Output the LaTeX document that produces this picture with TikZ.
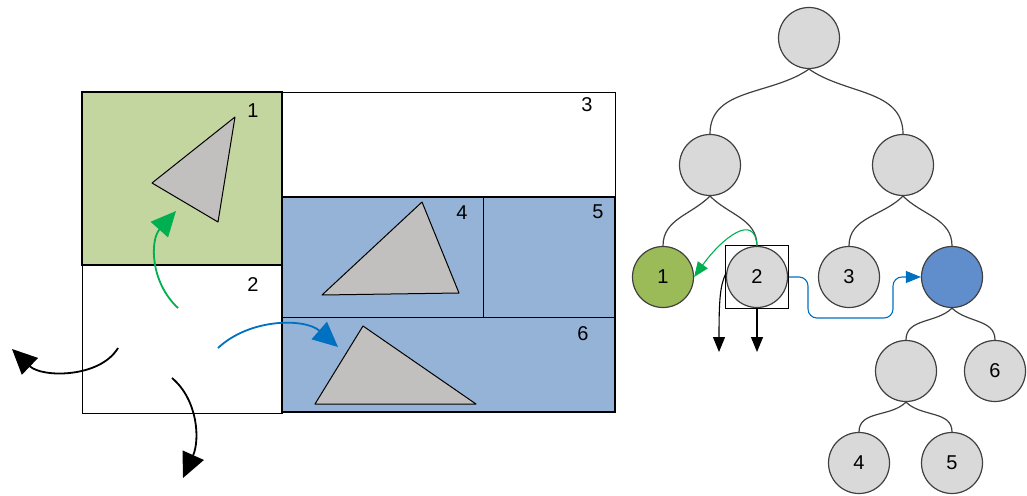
\documentclass[tikz,border=0pt]{standalone}
\usepackage{fontspec}
\setmainfont{Liberation Sans}
\usetikzlibrary{arrows.meta}

\definecolor{leafgreen}{RGB}{196,214,160}
\definecolor{nodegreen}{RGB}{155,187,89}
\definecolor{cellblue}{RGB}{149,179,215}
\definecolor{nodeblue}{RGB}{96,142,204}
\definecolor{nodegray}{RGB}{217,217,217}
\definecolor{trigray}{RGB}{194,192,190}
\definecolor{arrgreen}{RGB}{0,176,80}
\definecolor{arrblue}{RGB}{0,112,192}

\begin{document}
\begin{tikzpicture}[
  x=1pt, y=-1pt,
  font=\fontsize{20}{24}\selectfont,
  cell/.style={draw, line width=1pt},
  bold/.style={draw, line width=2.6pt},
  tri/.style={draw, fill=trigray, line width=1pt, line join=round},
  tnode/.style={circle, draw=black!75, line width=1.2pt, fill=nodegray,
                minimum size=61pt, inner sep=0pt},
  link/.style={line width=1.2pt, draw=black!75},
  move/.style={-{Triangle[length=25pt,width=23pt]}, line width=1.8pt},
  hop/.style={-{Triangle[length=15pt,width=12pt]}, line width=1.1pt}
]
  \useasboundingbox (0,0) rectangle (1027,495);

  % cells of the split
  \draw[cell] (82,265) rectangle (282,413);
  \draw[cell] (282,92) rectangle (615,197);
  \fill[cellblue] (282,197) rectangle (615,412);
  \draw[cell] (282,317) -- (615,317);
  \draw[cell] (483,197) -- (483,317);
  \draw[bold] (282,197) rectangle (615,412);
  \filldraw[bold, fill=leafgreen] (82,92) rectangle (282,265);

  \node (c1) at (253,111) {1};
  \node (c2) at (253,285) {2};
  \node (c3) at (587,105) {3};
  \node (c4) at (462,213) {4};
  \node (c5) at (598,212) {5};
  \node (c6) at (583,334) {6};

  % triangles
  \draw[tri] (152,183) -- (235,117) -- (218,222) -- cycle;
  \draw[tri] (322,295) -- (422,202) -- (459,293) -- cycle;
  \draw[tri] (315,404) -- (363,326) -- (476,404) -- cycle;

  % moves
  \coordinate (gs) at (178,308);
  \coordinate (ge) at (176,211);
  \coordinate (bs) at (218,348);
  \coordinate (be) at (338,347);
  \coordinate (ls) at (118,348);
  \coordinate (le) at (12,349);
  \coordinate (ds) at (172,378);
  \coordinate (de) at (183,478);
  \draw[move, arrgreen] (gs) .. controls (150,282) and (150,240) .. (ge);
  \draw[move, arrblue] (bs) .. controls (250,318) and (305,318) .. (be);
  \draw[move] (ls) .. controls (100,378) and (42,378) .. (le);
  \draw[move] (ds) .. controls (198,400) and (200,440) .. (de);

  % tree
  \node[tnode] (root) at (809,38) {};
  \node[tnode] (l) at (710,165) {};
  \node[tnode] (r) at (903,165) {};
  \node[tnode, fill=nodegreen] (n1) at (663,277) {1};
  \node[tnode] (n2) at (757,277) {2};
  \node[tnode] (n3) at (849,277) {3};
  \node[tnode, fill=nodeblue] (rr) at (952,277) {};
  \node[tnode] (rl) at (906,371) {};
  \node[tnode] (n6) at (995,371) {6};
  \node[tnode] (n4) at (859,463) {4};
  \node[tnode] (n5) at (952,463) {5};

  \draw[link] (root.south) to[out=-145, in=90] (l.north);
  \draw[link] (root.south) to[out=-35, in=90] (r.north);
  \draw[link] (l.south) to[out=-135, in=90] (n1.north);
  \draw[link] (l.south) to[out=-45, in=90] (n2.north);
  \draw[link] (r.south) to[out=-135, in=90] (n3.north);
  \draw[link] (r.south) to[out=-45, in=90] (rr.north);
  \draw[link] (rr.south) to[out=-135, in=90] (rl.north);
  \draw[link] (rr.south) to[out=-45, in=90] (n6.north);
  \draw[link] (rl.south) to[out=-135, in=90] (n4.north);
  \draw[link] (rl.south) to[out=-45, in=90] (n5.north);

  \node[draw, line width=1.2pt, minimum size=63pt, inner sep=0pt] (sel) at (n2) {};

  % leaf updates
  \coordinate (d1) at (719,352);
  \coordinate (d2) at (757,352);
  \draw[arrgreen, hop] (n2.north) .. controls (755,212) and (722,238) .. (n1.east);
  \draw[arrblue, hop, rounded corners=9pt] (sel.east) -- (808,277) -- (808,318)
       -- (893,318) -- (893,277) -- (rr.west);
  \draw[hop] (n2.172) .. controls (720,285) and (719,300) .. (d1);
  \draw[hop] (sel.south) -- (d2);
\end{tikzpicture}
\end{document}
